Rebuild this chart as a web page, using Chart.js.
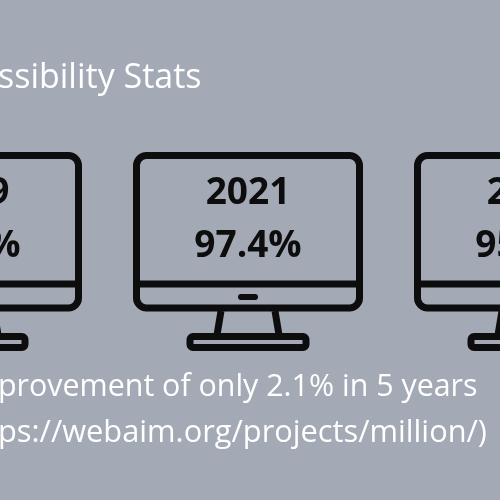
<!DOCTYPE html>
<html><head><meta charset="utf-8">
<script src="https://cdn.jsdelivr.net/npm/chart.js@4"></script>
<style>
html,body{margin:0;padding:0;background:#a3a9b5;width:500px;height:500px;overflow:hidden;font-family:"Open Sans",Lato,sans-serif;}
#wrap{position:absolute;left:0;top:0;width:500px;height:500px;}
.t{position:absolute;color:#fff;white-space:nowrap;}
</style></head><body>
<div id="wrap"><canvas id="c" width="500" height="500"></canvas></div>
<div class="t" style="left:-2px;top:52px;font-size:34px;">ssibility Stats</div>
<div class="t" style="left:-2px;top:364px;font-size:30.4px;">provement of only 2.1% in 5 years</div>
<div class="t" style="left:-2px;top:409px;font-size:30.8px;">ps://webaim.org/projects/million/)</div>
<script>
const years = ["2019","2021","2024"];
const rates = [97.8, 97.4, 95.9];
const positions = [0,1,2];

const monitors = {
  id:'monitors',
  afterDatasetsDraw(chart){
    const ctx=chart.ctx, xs=chart.scales.x;
    ctx.save();
    positions.forEach((p,i)=>{
      const cx=xs.getPixelForValue(p);
      ctx.strokeStyle='#0d0d0d';ctx.fillStyle='#0d0d0d';ctx.lineWidth=7;ctx.lineJoin='round';
      const L=cx-111.5,R=cx+111.5,T=155.5,B=308;
      ctx.beginPath();ctx.roundRect(L,T,R-L,B-T,10);ctx.stroke();
      ctx.beginPath();ctx.moveTo(L,284);ctx.lineTo(R,284);ctx.stroke();
      ctx.beginPath();ctx.roundRect(cx-10,294,20,6,3);ctx.fill();
      ctx.beginPath();ctx.moveTo(cx-27,311);ctx.lineTo(cx-31,335);ctx.moveTo(cx+27,311);ctx.lineTo(cx+31,335);ctx.stroke();
      ctx.beginPath();ctx.roundRect(cx-58,336.5,116,11,3);ctx.stroke();
      ctx.font='bold 37px "Open Sans", Lato, sans-serif';ctx.textAlign='center';ctx.textBaseline='middle';
      ctx.fillText(years[i],cx,193);
      ctx.fillText(rates[i].toFixed(1)+'%',cx,246);
    });
    ctx.restore();
  }
};
const sp=281;
const minV = 1-248/sp, maxV = minV+500/sp;
new Chart(document.getElementById('c'),{
  type:'scatter',
  data:{datasets:[{data:positions.map((p,i)=>({x:p,y:rates[i]})),pointRadius:0}]},
  options:{responsive:false,animation:false,layout:{padding:0},
    plugins:{legend:{display:false},tooltip:{enabled:false}},
    scales:{x:{type:'linear',min:minV,max:maxV,display:false},y:{min:0,max:100,display:false}}},
  plugins:[monitors]
});
</script></body></html>
